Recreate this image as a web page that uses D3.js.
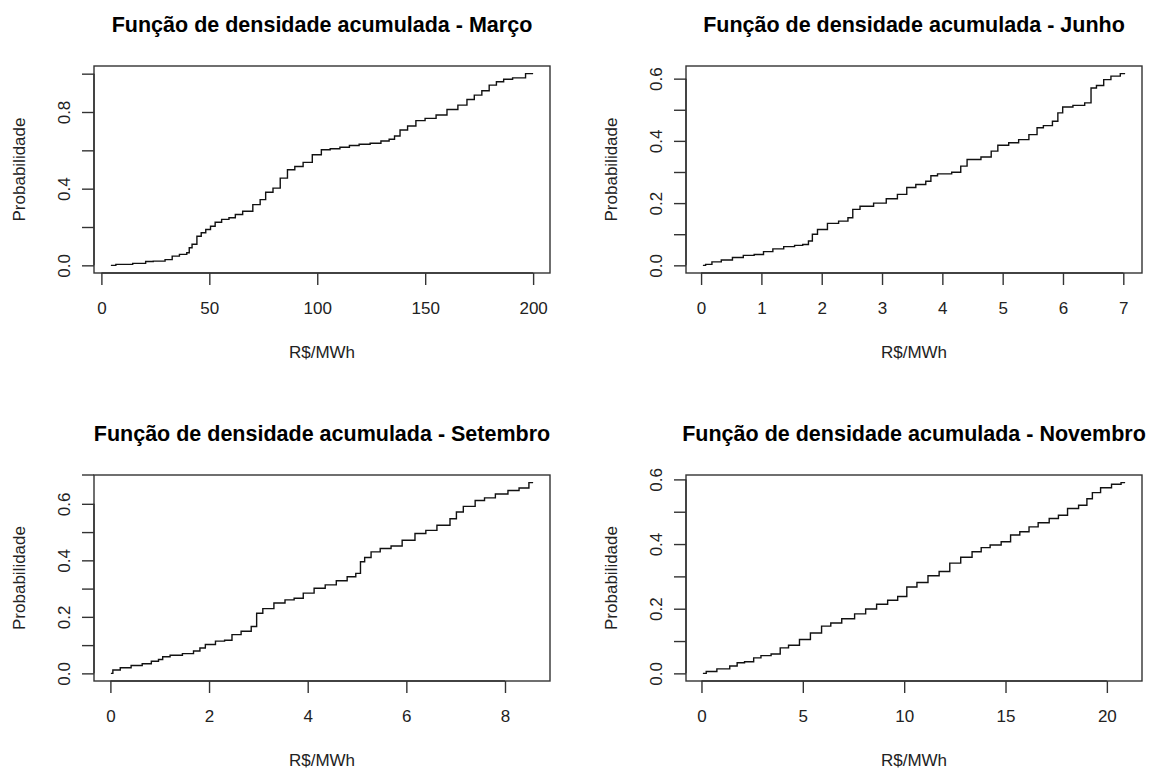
<!DOCTYPE html>
<html>
<head>
<meta charset="utf-8">
<script src="https://cdn.jsdelivr.net/npm/d3@7"></script>
<style>
    body { margin: 0; background: #fff; }
    svg { display: block; font-family: 'Liberation Sans', Arial, sans-serif; }
</style>
</head>
<body>
<div id="chart"></div>
<script>
/* Março: R$/MWh and cumulative probability */
const marcoX = [4.4, 9, 20, 21, 27, 32, 33.6, 38.7, 40.4, 41, 43, 45.5, 47, 49.7, 51.4, 54, 57.4, 60.8, 63.3, 67.6, 72.7, 74.4, 77.8, 81.2, 84.5, 87.9, 91.3, 95.6, 99.8, 104, 108, 113, 116.8, 122, 127, 132, 134.6, 137, 139.7, 144, 147.4, 152.5, 157.6, 162.6, 167.7, 171, 174.5, 178, 181.3, 184.7, 188, 193, 200];
const marcoP = [0, 0.005, 0.01, 0.02, 0.022, 0.03, 0.048, 0.057, 0.066, 0.092, 0.11, 0.152, 0.17, 0.187, 0.204, 0.225, 0.24, 0.248, 0.265, 0.282, 0.317, 0.343, 0.381, 0.403, 0.455, 0.499, 0.516, 0.537, 0.577, 0.603, 0.608, 0.616, 0.625, 0.632, 0.637, 0.649, 0.658, 0.675, 0.706, 0.727, 0.755, 0.767, 0.784, 0.813, 0.836, 0.865, 0.888, 0.911, 0.94, 0.958, 0.971, 0.978, 1.0];

/* Junho */
const junhoX = [0.03, 0.12, 0.24, 0.43, 0.61, 0.79, 0.97, 1.1, 1.28, 1.46, 1.64, 1.73, 1.83, 1.86, 2.0, 2.19, 2.37, 2.5, 2.53, 2.74, 2.98, 3.16, 3.35, 3.47, 3.65, 3.8, 3.82, 4.02, 4.29, 4.32, 4.5, 4.78, 4.84, 5.0, 5.2, 5.33, 5.54, 5.6, 5.75, 5.9, 5.93, 6.06, 6.27, 6.45, 6.48, 6.63, 6.72, 6.87, 7.03];
const junhoP = [0, 0.003, 0.011, 0.017, 0.025, 0.032, 0.035, 0.044, 0.053, 0.06, 0.064, 0.067, 0.078, 0.1, 0.115, 0.135, 0.142, 0.153, 0.18, 0.19, 0.2, 0.214, 0.228, 0.25, 0.26, 0.27, 0.288, 0.294, 0.299, 0.319, 0.34, 0.348, 0.367, 0.386, 0.394, 0.404, 0.42, 0.442, 0.449, 0.463, 0.49, 0.509, 0.514, 0.522, 0.57, 0.578, 0.597, 0.608, 0.616];

/* Setembro */
const setembroX = [0.01, 0.09, 0.31, 0.53, 0.76, 0.9, 1.05, 1.07, 1.35, 1.57, 1.8, 1.83, 2.02, 2.24, 2.39, 2.54, 2.76, 2.95, 2.98, 3.2, 3.43, 3.65, 3.8, 4.02, 4.24, 4.47, 4.69, 4.91, 5.04, 5.1, 5.21, 5.36, 5.58, 5.8, 6.03, 6.32, 6.47, 6.77, 7.0, 7.03, 7.28, 7.51, 7.66, 7.95, 8.17, 8.4, 8.57];
const setembroP = [0, 0.012, 0.02, 0.028, 0.034, 0.043, 0.049, 0.059, 0.064, 0.07, 0.079, 0.09, 0.102, 0.114, 0.117, 0.137, 0.149, 0.166, 0.213, 0.229, 0.249, 0.26, 0.266, 0.284, 0.301, 0.313, 0.328, 0.342, 0.354, 0.395, 0.41, 0.43, 0.442, 0.451, 0.471, 0.495, 0.506, 0.524, 0.547, 0.571, 0.591, 0.612, 0.621, 0.635, 0.647, 0.656, 0.675];

/* Novembro */
const novembroX = [0.07, 0.4, 1.12, 1.67, 1.85, 2.4, 2.75, 3.12, 3.75, 4.02, 4.57, 5.1, 5.65, 6.2, 6.56, 7.28, 7.83, 8.37, 8.91, 9.46, 9.9, 10.36, 10.9, 11.45, 12.0, 12.5, 13.08, 13.62, 13.98, 14.5, 15.07, 15.43, 15.98, 16.34, 16.88, 17.43, 17.79, 18.33, 18.88, 19.15, 19.42, 19.96, 20.5, 20.9];
const novembroP = [0, 0.006, 0.014, 0.023, 0.033, 0.036, 0.048, 0.055, 0.06, 0.079, 0.087, 0.105, 0.125, 0.146, 0.156, 0.169, 0.184, 0.199, 0.214, 0.226, 0.238, 0.267, 0.281, 0.302, 0.315, 0.341, 0.359, 0.376, 0.389, 0.397, 0.407, 0.428, 0.438, 0.453, 0.466, 0.479, 0.489, 0.51, 0.52, 0.54, 0.559, 0.574, 0.585, 0.59];

/* Ticks */
const marcoXTicks = [0, 50, 100, 150, 200];
const junhoXTicks = [0, 1, 2, 3, 4, 5, 6, 7];
const setembroXTicks = [0, 2, 4, 6, 8];
const novembroXTicks = [0, 5, 10, 15, 20];
const marcoYTicks = [0, 0.2, 0.4, 0.6, 0.8, 1.0];
const marcoYLabels = ['0.0', '', '0.4', '', '0.8', ''];
const probYTicks = [0, 0.1, 0.2, 0.3, 0.4, 0.5, 0.6];
const probYLabels = ['0.0', '', '0.2', '', '0.4', '', '0.6'];

const titles = [
    'Função de densidade acumulada - Março',
    'Função de densidade acumulada - Junho',
    'Função de densidade acumulada - Setembro',
    'Função de densidade acumulada - Novembro',
];
const xLabel = 'R$/MWh';
const yLabel = 'Probabilidade';

const dimensions = { width: 1153, height: 769 };

const panels = [
    { title: titles[0], xs: marcoX, ps: marcoP, xTicks: marcoXTicks, yTicks: marcoYTicks, yLabels: marcoYLabels,
      box: { left: 94, top: 66, right: 550, bottom: 273 } },
    { title: titles[1], xs: junhoX, ps: junhoP, xTicks: junhoXTicks, yTicks: probYTicks, yLabels: probYLabels,
      box: { left: 686, top: 66, right: 1142, bottom: 273 } },
    { title: titles[2], xs: setembroX, ps: setembroP, xTicks: setembroXTicks, yTicks: probYTicks, yLabels: probYLabels,
      box: { left: 94, top: 475, right: 550, bottom: 681 }, topOverhang: 12 },
    { title: titles[3], xs: novembroX, ps: novembroP, xTicks: novembroXTicks, yTicks: probYTicks, yLabels: probYLabels,
      box: { left: 686, top: 475, right: 1142, bottom: 681 } },
];

const xAccessor = d => d.x;
const yAccessor = d => d.p;

const svg = d3
    .select('#chart')
    .append('svg')
    .attr('width', dimensions.width)
    .attr('height', dimensions.height);

svg.append('rect')
    .attr('width', dimensions.width)
    .attr('height', dimensions.height)
    .attr('fill', '#fff');

const axisColor = '#333';
const fontSize = 17;

panels.forEach(pn => {
    const { left, top, right, bottom } = pn.box;
    const data = pn.xs.map((x, i) => ({ x, p: pn.ps[i] }));

    /* R style 4% padding around the data range */
    const [xMin, xMax] = d3.extent(data, xAccessor);
    const padX = (xMax - xMin) * 0.04;
    const xScale = d3.scaleLinear().domain([xMin - padX, xMax + padX]).range([left, right]);

    const [yMin, yMax] = d3.extent(data, yAccessor);
    const padY = (yMax - yMin) * 0.04;
    const yScale = d3.scaleLinear().domain([yMin - padY, yMax + padY]).range([bottom, top]);

    const g = svg.append('g');

    /* Step line */
    const lineGenerator = d3
        .line()
        .x(d => xScale(xAccessor(d)))
        .y(d => yScale(yAccessor(d)))
        .curve(d3.curveStep);

    g.append('path')
        .datum(data)
        .attr('d', lineGenerator)
        .attr('fill', 'none')
        .attr('stroke', '#111')
        .attr('stroke-width', 1.4)
        .attr('stroke-linejoin', 'miter');

    /* Box */
    g.append('rect')
        .attr('x', left)
        .attr('y', top)
        .attr('width', right - left)
        .attr('height', bottom - top)
        .attr('fill', 'none')
        .attr('stroke', axisColor)
        .attr('stroke-width', 1.4);

    if (pn.topOverhang) {
        g.append('line')
            .attr('x1', left - pn.topOverhang)
            .attr('x2', left)
            .attr('y1', top)
            .attr('y2', top)
            .attr('stroke', axisColor)
            .attr('stroke-width', 1.4);
    }

    // --------------- x axis ---------------
    const xAxis = d3
        .axisBottom(xScale)
        .tickValues(pn.xTicks)
        .tickSize(12)
        .tickSizeOuter(0)
        .tickFormat(d3.format('d'));

    const gX = g.append('g')
        .attr('transform', `translate(0, ${bottom})`)
        .call(xAxis)
        .attr('font-size', fontSize)
        .attr('font-family', null)
        .attr('color', axisColor);

    gX.select('.domain')
        .attr('d', `M${xScale(pn.xTicks[0])},0H${xScale(pn.xTicks[pn.xTicks.length - 1])}`)
        .attr('stroke-width', 1.4);
    gX.selectAll('.tick line').attr('stroke-width', 1.4);
    gX.selectAll('.tick text')
        .attr('y', 41)
        .attr('dy', 0)
        .attr('fill', '#222');

    // --------------- y axis ---------------
    const yAxis = d3
        .axisLeft(yScale)
        .tickValues(pn.yTicks)
        .tickSize(12)
        .tickSizeOuter(0)
        .tickFormat((d, i) => pn.yLabels[i]);

    const gY = g.append('g')
        .attr('transform', `translate(${left}, 0)`)
        .call(yAxis)
        .attr('font-size', fontSize)
        .attr('font-family', null)
        .attr('color', axisColor);

    gY.select('.domain')
        .attr('d', `M0,${yScale(pn.yTicks[0])}V${yScale(pn.yTicks[pn.yTicks.length - 1])}`)
        .attr('stroke-width', 1.4);
    gY.selectAll('.tick line').attr('stroke-width', 1.4);
    gY.selectAll('.tick text')
        .attr('transform', 'rotate(-90)')
        .attr('x', 0)
        .attr('y', -24)
        .attr('dy', 0)
        .attr('text-anchor', 'middle')
        .attr('fill', '#222');

    /* Labels */
    const midX = (left + right) / 2;
    const midY = (top + bottom) / 2;

    g.append('text')
        .attr('x', midX)
        .attr('y', top - 34)
        .attr('text-anchor', 'middle')
        .attr('font-size', 21.5)
        .attr('font-weight', 'bold')
        .attr('fill', '#000')
        .text(pn.title);

    g.append('text')
        .attr('x', midX)
        .attr('y', bottom + 85)
        .attr('text-anchor', 'middle')
        .attr('font-size', fontSize)
        .attr('fill', '#222')
        .text(xLabel);

    g.append('text')
        .attr('transform', `translate(${left - 69}, ${midY}) rotate(-90)`)
        .attr('text-anchor', 'middle')
        .attr('font-size', fontSize)
        .attr('fill', '#222')
        .text(yLabel);
});
</script>
</body>
</html>
